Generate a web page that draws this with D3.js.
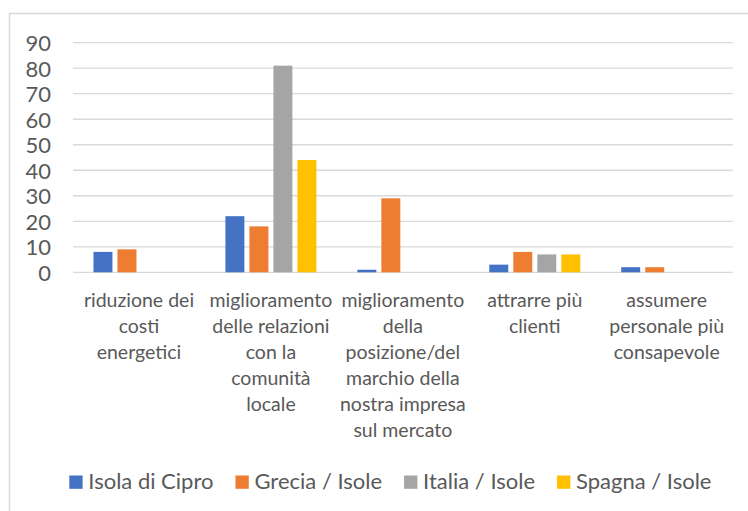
<!DOCTYPE html>
<html>
<head>
<meta charset="utf-8">
<script src="https://cdn.jsdelivr.net/npm/d3@7"></script>
<style>
  body { margin: 0; background: #fff; overflow: hidden; }
  text { font-family: Lato, "Open Sans", sans-serif; fill: #595959; }
</style>
</head>
<body>
<script>
// data
const categories = [
  "riduzione dei costi energetici",
  "miglioramento delle relazioni con la comunità locale",
  "miglioramento della posizione/del marchio della nostra impresa sul mercato",
  "attrarre più clienti",
  "assumere personale più consapevole"
];
const categoryLines = [
  ["riduzione dei", "costi", "energetici"],
  ["miglioramento", "delle relazioni", "con la", "comunità", "locale"],
  ["miglioramento", "della", "posizione/del", "marchio della", "nostra impresa", "sul mercato"],
  ["attrarre più", "clienti"],
  ["assumere", "personale più", "consapevole"]
];
const seriesNames = ["Isola di Cipro", "Grecia / Isole", "Italia / Isole", "Spagna / Isole"];
const cipro   = [8, 22, 1, 3, 2];
const grecia  = [9, 18, 29, 8, 2];
const italia  = [0, 81, 0, 7, 0];
const spagna  = [0, 44, 0, 7, 0];
const yTicks = [0, 10, 20, 30, 40, 50, 60, 70, 80, 90];
const colors = ["#4472C4", "#ED7D31", "#A5A5A5", "#FFC000"];

const allSeries = [cipro, grecia, italia, spagna];

const width = 748, height = 511;
var svg = d3.select("body").append("svg").attr("width", width).attr("height", height);

// chart frame (runs past right and bottom edge like the screenshot)
svg.append("rect")
  .attr("x", 9.5).attr("y", 13.5)
  .attr("width", 780).attr("height", 560)
  .attr("fill", "none").attr("stroke", "#D9D9D9").attr("stroke-width", 1.5);

const plotLeft = 73, plotRight = 732.7, plotTop = 42.7, plotBottom = 272.3;

var y = d3.scaleLinear().domain([0, 90]).range([plotBottom, plotTop]);
var x0 = d3.scaleBand().domain(categories).range([plotLeft, plotRight]).padding(0);
var groupW = 91;
var x1 = d3.scaleBand().domain(seriesNames)
  .range([(x0.bandwidth() - groupW) / 2, (x0.bandwidth() + groupW) / 2])
  .paddingInner(0.21).paddingOuter(0);

// gridlines
svg.append("g")
  .selectAll("line").data(yTicks).join("line")
  .attr("x1", plotLeft).attr("x2", plotRight)
  .attr("y1", d => y(d)).attr("y2", d => y(d))
  .attr("stroke", "#D9D9D9").attr("stroke-width", 1.3);

// y axis labels
var yAxis = d3.axisLeft(y).tickValues(yTicks).tickSize(0).tickPadding(0);
var yg = svg.append("g").attr("transform", "translate(51,0)").call(yAxis);
yg.select(".domain").remove();
yg.selectAll("text")
  .attr("font-family", "Lato, sans-serif")
  .style("font-size", "22px").attr("fill", "#595959")
  .attr("dy", "0.36em");

// bars
var groups = svg.append("g").selectAll("g").data(categories).join("g")
  .attr("transform", d => "translate(" + x0(d) + ",0)");

groups.selectAll("rect")
  .data((c, i) => seriesNames.map((s, k) => ({ s: s, v: allSeries[k][i], k: k })))
  .join("rect")
  .attr("x", d => x1(d.s))
  .attr("width", x1.bandwidth())
  .attr("y", d => y(d.v))
  .attr("height", d => y(0) - y(d.v))
  .attr("fill", d => colors[d.k]);

// category labels
var labels = svg.append("g").selectAll("text").data(categories).join("text")
  .attr("text-anchor", "middle")
  .style("font-size", "19.5px");
labels.each(function (c, i) {
  var t = d3.select(this);
  categoryLines[i].forEach((ln, j) => {
    t.append("tspan")
      .attr("x", x0(c) + x0.bandwidth() / 2)
      .attr("y", 307 + j * 26)
      .text(ln);
  });
});

// legend
var lg = svg.append("g");
var lx = 69.3;
seriesNames.forEach((s, k) => {
  lg.append("rect").attr("x", lx).attr("y", 475.5)
    .attr("width", 13.3).attr("height", 13.3).attr("fill", colors[k]);
  var t = lg.append("text").attr("x", lx + 19).attr("y", 489)
    .style("font-size", "22px").text(s);
  lx = lx + 19 + t.node().getComputedTextLength() + 22;
});
</script>
</body>
</html>
